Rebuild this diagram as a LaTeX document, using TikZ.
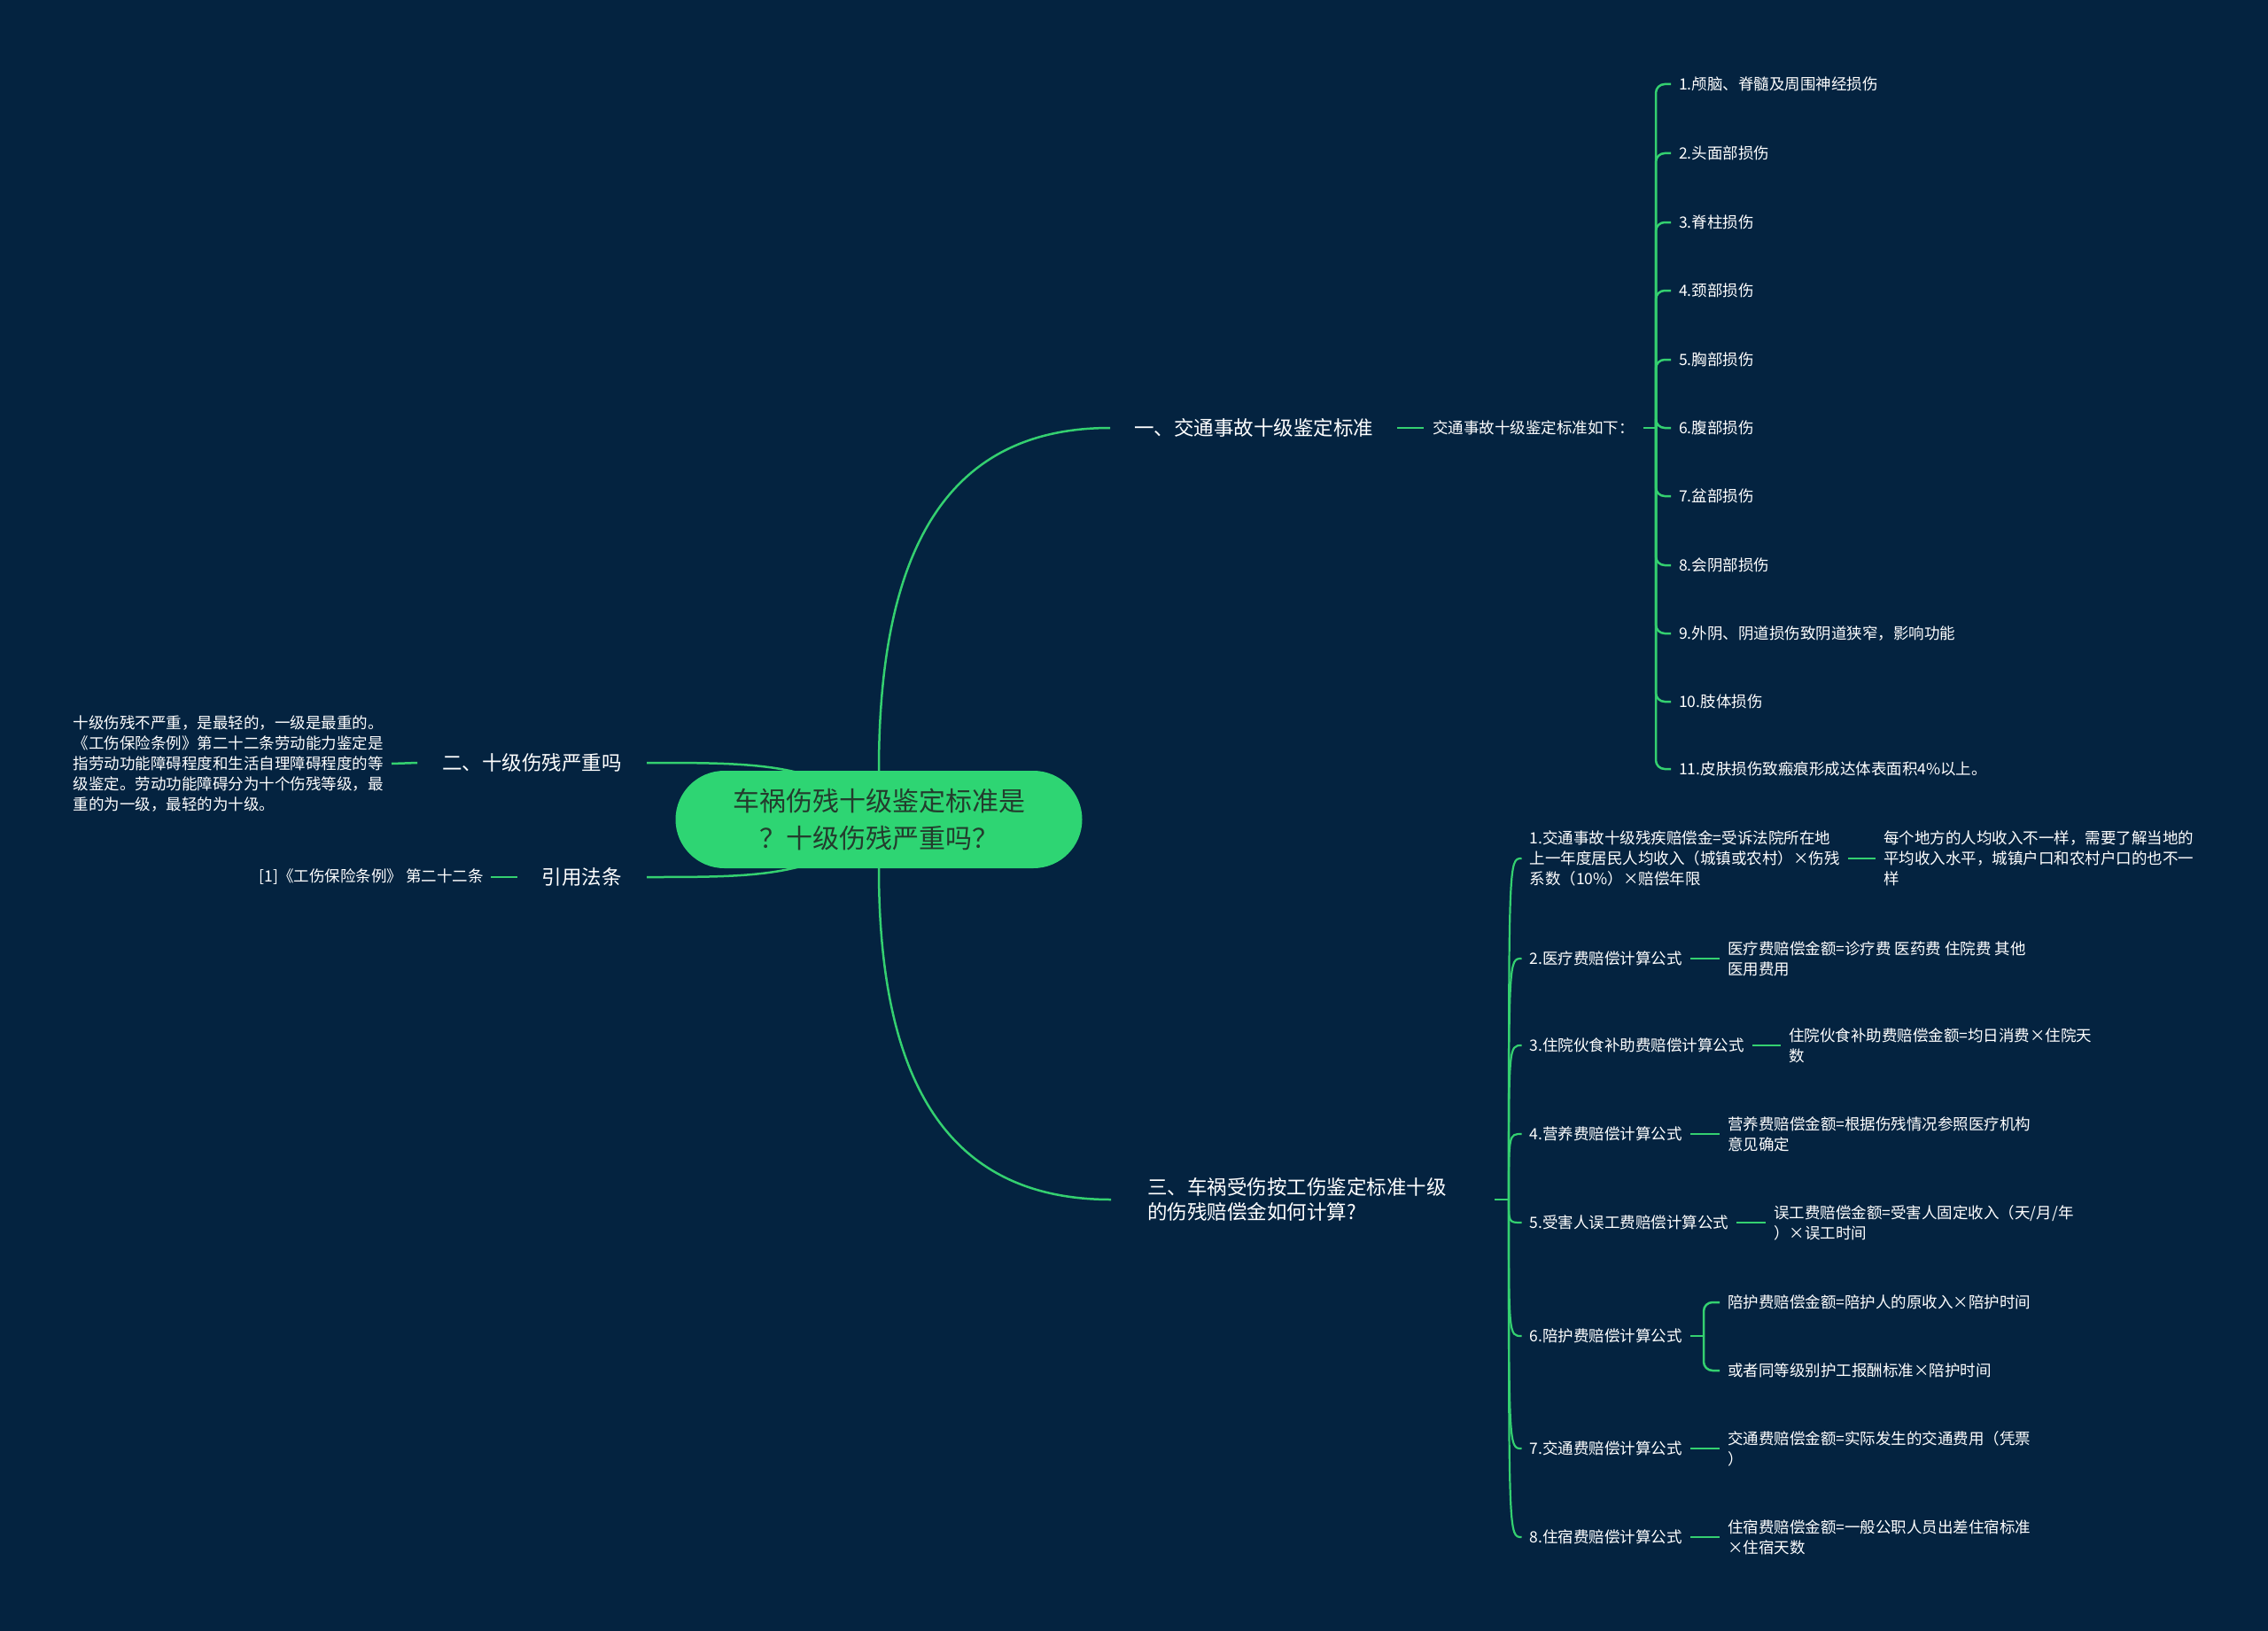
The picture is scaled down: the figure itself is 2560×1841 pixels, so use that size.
\documentclass[tikz,border=0pt]{standalone}
\usepackage{fontspec}
\setmainfont{Noto Sans CJK SC}
\usetikzlibrary{backgrounds,calc}
\definecolor{bgc}{RGB}{4,35,64}
\definecolor{lnc}{RGB}{52,208,112}
\definecolor{cfill}{RGB}{46,213,115}
\definecolor{ctext}{RGB}{35,60,45}
\begin{document}
\begin{tikzpicture}[x=1pt,y=-1pt,
  conn/.style={draw=lnc,line width=2.5pt},
  thinconn/.style={draw=lnc,line width=2.2pt},
  centerbox/.style={fill=cfill,rounded corners=55pt,minimum width=459pt,minimum height=110pt,text=ctext,align=center,font=\fontsize{30pt}{42pt}\selectfont,inner sep=0pt},
  lvlone/.style={text=white,font=\fontsize{22.5pt}{28pt}\selectfont,inner xsep=28pt,inner ysep=4pt,align=left},
  lvltwo/.style={text=white,font=\fontsize{17.5pt}{23pt}\selectfont,inner xsep=9pt,inner ysep=4pt,align=left},
]
\useasboundingbox (0,0) rectangle (2560,1841);

% center
\node[centerbox] (c) at (992,925) {车祸伤残十级鉴定标准是\\？十级伤残严重吗？};

% branch one
\node[lvlone,anchor=west,inner xsep=27pt] (L1a) at (1253,483) {一、交通事故十级鉴定标准};
\node[lvltwo,anchor=west,inner xsep=10pt] (L2a) at (1607,483) {交通事故十级鉴定标准如下：};
\node[lvltwo,anchor=west] (a1) at (1886,95) {1.颅脑、脊髓及周围神经损伤};
\node[lvltwo,anchor=west] (a2) at (1886,173) {2.头面部损伤};
\node[lvltwo,anchor=west] (a3) at (1886,251) {3.脊柱损伤};
\node[lvltwo,anchor=west] (a4) at (1886,328) {4.颈部损伤};
\node[lvltwo,anchor=west] (a5) at (1886,406) {5.胸部损伤};
\node[lvltwo,anchor=west] (a6) at (1886,483) {6.腹部损伤};
\node[lvltwo,anchor=west] (a7) at (1886,560) {7.盆部损伤};
\node[lvltwo,anchor=west] (a8) at (1886,638) {8.会阴部损伤};
\node[lvltwo,anchor=west] (a9) at (1886,715) {9.外阴、阴道损伤致阴道狭窄，影响功能};
\node[lvltwo,anchor=west] (a10) at (1886,792) {10.肢体损伤};
\node[lvltwo,anchor=west] (a11) at (1886,868) {11.皮肤损伤致瘢痕形成达体表面积4\%以上。};
\coordinate (ja) at (1869,483);

% branch two (left)
\node[lvlone,anchor=east] (L1b) at (730,861) {二、十级伤残严重吗};
\node[lvltwo,anchor=east] (P) at (442,862) {十级伤残不严重，是最轻的，一级是最重的。\\《工伤保险条例》第二十二条劳动能力鉴定是\\指劳动功能障碍程度和生活自理障碍程度的等\\级鉴定。劳动功能障碍分为十个伤残等级，最\\重的为一级，最轻的为十级。};

% branch four (left)
\node[lvlone,anchor=east] (L1d) at (730,990) {引用法条};
\node[lvltwo,anchor=east,inner xsep=8pt] (R) at (554,990) {[1]《工伤保险条例》 第二十二条};

% branch three
\node[lvlone,anchor=west,inner xsep=41pt,text width=351pt] (L1c) at (1254,1354) {三、车祸受伤按工伤鉴定标准十级\\的伤残赔偿金如何计算?};
\coordinate (jc) at (1703,1354);
\node[lvltwo,anchor=west] (b1) at (1717.5,969) {1.交通事故十级残疾赔偿金=受诉法院所在地\\上一年度居民人均收入（城镇或农村）×伤残\\系数（10\%）×赔偿年限};
\node[lvltwo,anchor=west] (b2) at (1717.5,1082) {2.医疗费赔偿计算公式};
\node[lvltwo,anchor=west] (b3) at (1717.5,1180) {3.住院伙食补助费赔偿计算公式};
\node[lvltwo,anchor=west] (b4) at (1717.5,1280) {4.营养费赔偿计算公式};
\node[lvltwo,anchor=west] (b5) at (1717.5,1380) {5.受害人误工费赔偿计算公式};
\node[lvltwo,anchor=west] (b6) at (1717.5,1508) {6.陪护费赔偿计算公式};
\node[lvltwo,anchor=west] (b7) at (1717.5,1635) {7.交通费赔偿计算公式};
\node[lvltwo,anchor=west] (b8) at (1717.5,1735) {8.住宿费赔偿计算公式};

\node[lvltwo,anchor=west] (g1) at (2117,969) {每个地方的人均收入不一样，需要了解当地的\\平均收入水平，城镇户口和农村户口的也不一\\样};
\node[lvltwo,anchor=west] (g2) at (1941,1082) {医疗费赔偿金额=诊疗费 医药费 住院费 其他\\医用费用};
\node[lvltwo,anchor=west] (g3) at (2010,1180) {住院伙食补助费赔偿金额=均日消费×住院天\\数};
\node[lvltwo,anchor=west] (g4) at (1941,1280) {营养费赔偿金额=根据伤残情况参照医疗机构\\意见确定};
\node[lvltwo,anchor=west] (g5) at (1993,1380) {误工费赔偿金额=受害人固定收入（天/月/年\\）×误工时间};
\node[lvltwo,anchor=west] (g6a) at (1941,1470) {陪护费赔偿金额=陪护人的原收入×陪护时间};
\node[lvltwo,anchor=west] (g6b) at (1941,1547) {或者同等级别护工报酬标准×陪护时间};
\coordinate (j6) at (1923,1508);
\node[lvltwo,anchor=west] (g7) at (1941,1635) {交通费赔偿金额=实际发生的交通费用（凭票\\）};
\node[lvltwo,anchor=west] (g8) at (1941,1735) {住宿费赔偿金额=一般公职人员出差住宿标准\\×住宿天数};

\begin{scope}[on background layer]
\fill[bgc] (0,0) rectangle (2560,1841);
% main curves
\draw[conn] (c.north) .. controls (992,611) and (1075,483) .. (L1a.west);
\draw[conn] (c.south) .. controls (992,1229) and (1075,1354) .. (L1c.west);
\draw[conn] (c.center) .. controls (930,861) and (860,861) .. (L1b.east);
\draw[conn] (c.center) .. controls (930,990) and (860,990) .. (L1d.east);
% left leaves
\draw[conn] (L1b.west) -- (P.east);
\draw[conn] (L1d.west) -- (R.east);
% branch one
\draw[conn] (L1a.east) -- (L2a.west);
\draw[conn] (L2a.east) -- (ja);
\foreach \i in {1,...,11} {\draw[conn,rounded corners=10pt] (ja) |- (a\i.west);}
% branch three
\draw[conn] (L1c.east) -- (jc);
\foreach \i in {1,...,8} {\draw[thinconn] (jc) .. controls (jc |- b\i.west) .. (b\i.west);}
\draw[conn] (b1.east) -- (g1.west);
\draw[conn] (b2.east) -- (g2.west);
\draw[conn] (b3.east) -- (g3.west);
\draw[conn] (b4.east) -- (g4.west);
\draw[conn] (b5.east) -- (g5.west);
\draw[conn] (b6.east) -- (j6);
\draw[conn,rounded corners=10pt] (j6) |- (g6a.west);
\draw[conn,rounded corners=10pt] (j6) |- (g6b.west);
\draw[conn] (b7.east) -- (g7.west);
\draw[conn] (b8.east) -- (g8.west);
\end{scope}
\end{tikzpicture}
\end{document}
